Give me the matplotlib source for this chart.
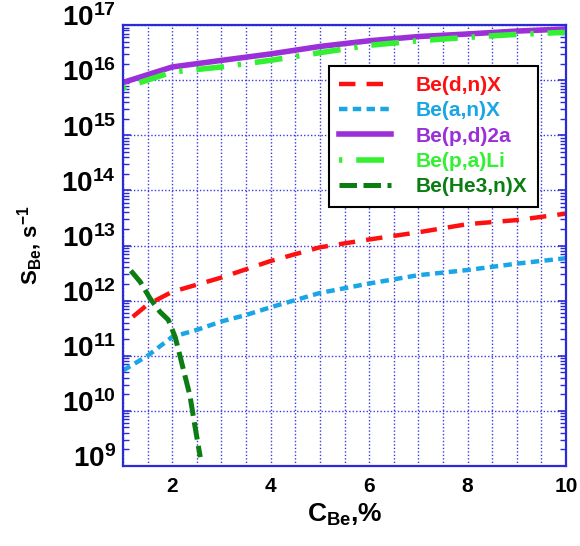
import numpy as np
import matplotlib
matplotlib.use("Agg")
import matplotlib.pyplot as plt
from matplotlib.ticker import MultipleLocator, FixedLocator, LogLocator, FuncFormatter, NullFormatter
import matplotlib.transforms as mtransforms

plt.rcParams['font.family'] = 'Liberation Sans'
plt.rcParams['font.weight'] = 'bold'
plt.rcParams['mathtext.fontset'] = 'custom'
plt.rcParams['mathtext.rm'] = 'Liberation Sans:bold'
plt.rcParams['mathtext.bf'] = 'Liberation Sans:bold'
plt.rcParams['mathtext.it'] = 'Liberation Sans:bold'

# concentration of Be, %
c_dn = [1.2, 1.5, 2, 2.5, 3, 4, 5, 6, 7, 8, 9, 10]
s_dn = [5.1e11, 8.5e11, 1.45e12, 1.95e12, 2.63e12, 5.25e12, 9.3e12, 1.29e13,
        1.74e13, 2.45e13, 2.9e13, 3.8e13]

c_an = [1, 1.5, 2, 2.5, 3, 3.5, 4, 5, 6, 7, 8, 9, 10]
s_an = [5.4e10, 1.0e11, 2.2e11, 2.95e11, 4.2e11, 5.5e11, 7.6e11, 1.38e12,
        2.05e12, 2.9e12, 3.6e12, 4.7e12, 5.9e12]

c_p = [1, 2, 3, 4, 5, 6, 7, 8, 9, 10]
s_pd2a = [9.1e15, 1.74e16, 2.29e16, 3.0e16, 4.1e16, 5.2e16, 6.2e16, 6.9e16,
          7.8e16, 8.5e16]
s_paLi = [7.2e15, 1.41e16, 1.74e16, 2.3e16, 3.16e16, 4.3e16, 5.2e16, 6.0e16,
          6.8e16, 7.4e16]

c_he3 = [1.16, 1.35, 1.55, 1.75, 1.92, 2.06, 2.16, 2.26, 2.36, 2.46, 2.57]
s_he3 = [3.5e12, 2.2e12, 1.1e12, 6.3e11, 4.5e11, 2.2e11, 9.8e10, 4.3e10,
         1.9e10, 5.4e9, 1.45e9]

y_decades = [1e9, 1e10, 1e11, 1e12, 1e13, 1e14, 1e15, 1e16, 1e17]

fig = plt.figure(figsize=(5.8, 5.46), dpi=100)
ax = fig.add_axes([0.212, 0.1465, 0.764, 0.8075])

spine_col = '#2a2ad8'
grid_col = '#3a3ae0'

ax.plot(c_dn, s_dn, color='#ff1010', lw=3.2, linestyle=(0, (3.7, 2.5)), label='Be(d,n)X')
ax.plot(c_an, s_an, color='#1aa6e6', lw=3.2, linestyle=(0, (1.9, 1.2)), label='Be(a,n)X')
ax.plot(c_p, s_pd2a, color='#9b30d8', lw=4, label='Be(p,d)2a')
ax.plot(c_p, s_paLi, color='#33f033', lw=4, linestyle=(0, (0.6, 2.5, 5, 2.5)), label='Be(p,a)Li')
ax.plot(c_he3, s_he3, color='#0b7d12', lw=3.6, linestyle=(0, (3.5, 1.3)), label='Be(He3,n)X')

ax.set_yscale('log')
ax.set_xlim(1, 10)
ax.set_ylim(1e9, 1e17)

ax.xaxis.set_major_locator(MultipleLocator(2))
ax.xaxis.set_minor_locator(MultipleLocator(0.5))
ax.yaxis.set_major_locator(FixedLocator(y_decades))
ax.yaxis.set_minor_locator(LogLocator(base=10, subs=np.arange(2, 10), numticks=20))
ax.yaxis.set_minor_formatter(NullFormatter())
ax.yaxis.set_major_formatter(FuncFormatter(lambda v, p: r'$\mathbf{10^{%d}}$' % int(round(np.log10(v)))))

ax.grid(True, which='major', axis='y', color=grid_col, linestyle=(0, (1, 1.5)), lw=1)
ax.grid(True, which='both', axis='x', color=grid_col, linestyle=(0, (1, 1.5)), lw=1)

ax.tick_params(axis='x', which='both', length=0, labelsize=15, pad=8)
ax.tick_params(axis='y', which='major', direction='in', length=6, width=1.2,
               color=spine_col, labelsize=20, right=True, pad=5)
ax.tick_params(axis='y', which='minor', direction='in', length=4, width=1,
               color=spine_col, right=True)

offset = mtransforms.ScaledTranslation(0, 7 / 72, fig.dpi_scale_trans)
for lab in ax.get_yticklabels():
    lab.set_transform(lab.get_transform() + offset)

for sp in ax.spines.values():
    sp.set_color(spine_col)
    sp.set_linewidth(1.6)

ax.set_xlabel(r'C$_{\mathbf{Be}}$,%', fontsize=19, fontweight='bold', labelpad=4)
ax.set_ylabel(r'S$_{\mathbf{Be}}$, s$^{\mathbf{-1}}$', fontsize=16, fontweight='bold', labelpad=12)

leg = ax.legend(loc='upper right', bbox_to_anchor=(0.937, 0.908), fontsize=15,
                frameon=True, fancybox=False, edgecolor='black', framealpha=1,
                handlelength=2.5, labelspacing=0.3, borderpad=0.5, handletextpad=1.2,
                borderaxespad=0)
leg.get_frame().set_linewidth(1.5)
for txt, line in zip(leg.get_texts(), leg.get_lines()):
    txt.set_color(line.get_color())

fig.savefig('out.png', dpi=100)
